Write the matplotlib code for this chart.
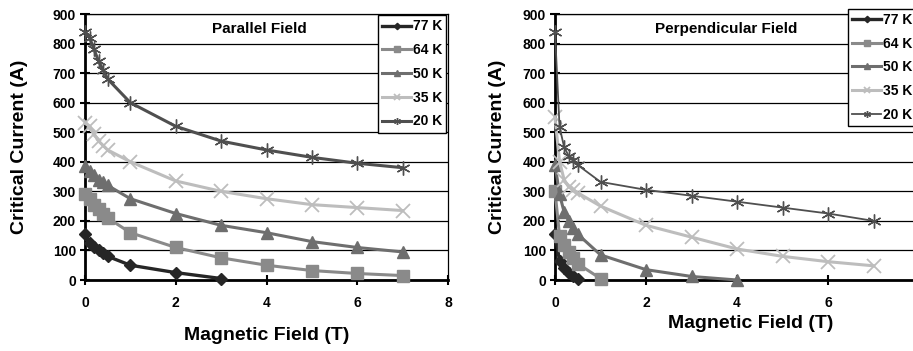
import matplotlib
matplotlib.use("Agg")
import matplotlib.pyplot as plt
from matplotlib import font_manager

fams = {f.name for f in font_manager.fontManager.ttflist}
FONT = "Liberation Sans Narrow" if "Liberation Sans Narrow" in fams else "Liberation Sans"
plt.rcParams["font.family"] = [FONT, "DejaVu Sans"]
plt.rcParams["font.weight"] = "bold"
plt.rcParams["axes.labelweight"] = "bold"

temps = ["77 K", "64 K", "50 K", "35 K", "20 K"]

# parallel field
par_field = {
    "77 K": [0, 0.1, 0.2, 0.3, 0.4, 0.5, 1, 2, 3],
    "64 K": [0, 0.1, 0.2, 0.3, 0.4, 0.5, 1, 2, 3, 4, 5, 6, 7],
    "50 K": [0, 0.1, 0.2, 0.3, 0.4, 0.5, 1, 2, 3, 4, 5, 6, 7],
    "35 K": [0, 0.1, 0.2, 0.3, 0.4, 0.5, 1, 2, 3, 4, 5, 6, 7],
    "20 K": [0, 0.1, 0.2, 0.3, 0.4, 0.5, 1, 2, 3, 4, 5, 6, 7],
}
par_ic = {
    "77 K": [155, 125, 110, 100, 90, 80, 50, 25, 5],
    "64 K": [290, 275, 255, 240, 225, 210, 160, 110, 75, 50, 32, 22, 15],
    "50 K": [385, 370, 355, 340, 330, 320, 275, 225, 185, 160, 130, 110, 95],
    "35 K": [530, 520, 495, 470, 455, 440, 400, 335, 300, 275, 255, 245, 235],
    "20 K": [840, 820, 780, 740, 710, 680, 600, 520, 470, 440, 415, 395, 380],
}

# perpendicular field
perp_field = {
    "77 K": [0, 0.1, 0.2, 0.3, 0.4, 0.5],
    "64 K": [0, 0.1, 0.2, 0.3, 0.4, 0.5, 1],
    "50 K": [0, 0.1, 0.2, 0.3, 0.4, 0.5, 1, 2, 3, 4],
    "35 K": [0, 0.1, 0.2, 0.3, 0.4, 0.5, 1, 2, 3, 4, 5, 6, 7],
    "20 K": [0, 0.1, 0.2, 0.3, 0.4, 0.5, 1, 2, 3, 4, 5, 6, 7],
}
perp_ic = {
    "77 K": [155, 65, 40, 25, 12, 2],
    "64 K": [300, 150, 120, 95, 75, 55, 5],
    "50 K": [390, 290, 230, 200, 175, 155, 85, 35, 12, 0],
    "35 K": [550, 400, 340, 315, 305, 295, 250, 185, 145, 105, 80, 62, 48],
    "20 K": [840, 518, 450, 420, 405, 389, 332, 305, 285, 265, 245, 225, 200],
}

x_ticks = [0, 2, 4, 6, 8]
y_ticks = list(range(0, 901, 100))

styles = {
    "77 K": dict(color="#262626", marker="D", ms=6.5, lw=2.4),
    "64 K": dict(color="#8a8a8a", marker="s", ms=8.5, lw=2.2),
    "50 K": dict(color="#6e6e6e", marker="^", ms=8.5, lw=2.2),
    "35 K": dict(color="#bdbdbd", marker="x", ms=10, lw=2.2, mew=1.3),
    "20 K": dict(color="#4f4f4f", marker=(6, 2, 0), ms=10, lw=2.2, mew=1.0),
}

fig = plt.figure(figsize=(9.13, 3.51), dpi=100)
ax1 = fig.add_axes([85 / 913, 71 / 351, 363 / 913, 266 / 351])
ax2 = fig.add_axes([555 / 913, 71 / 351, 364 / 913, 266 / 351])


def draw(ax, fields, currents, title, title_x, leg_pos, thin20=False):
    for t in temps:
        st = dict(styles[t])
        if thin20 and t == "20 K":
            st["lw"] = 1.3
        ax.plot(fields[t], currents[t], label=t, mec=st["color"],
                clip_on=False, zorder=3, **st)
    ax.set_xlim(0, 8)
    ax.set_ylim(0, 900)
    ax.set_xticks(x_ticks)
    ax.set_yticks(y_ticks)
    ax.yaxis.grid(True, color="black", lw=0.9)
    ax.set_axisbelow(True)
    for s in ["left", "bottom"]:
        ax.spines[s].set_linewidth(2)
    for s in ["top", "right"]:
        ax.spines[s].set_linewidth(0.9)
    ax.tick_params(direction="inout", length=7, width=1.5, labelsize=10, pad=3)
    ax.tick_params(axis="x", pad=8)
    ax.set_ylabel("Critical Current (A)", fontsize=14, va="center")
    ax.set_xlabel("Magnetic Field (T)", fontsize=14, va="center")
    ax.text(title_x, 0.945, title, transform=ax.transAxes, ha="center",
            va="center", fontsize=11)
    leg = ax.legend(loc="upper left", bbox_to_anchor=leg_pos, fontsize=10,
                    handlelength=2.1, handletextpad=0.1, borderpad=0.3,
                    labelspacing=0.7, borderaxespad=0, fancybox=False,
                    markerscale=0.5, framealpha=1)
    leg.get_frame().set_edgecolor("black")
    leg.get_frame().set_linewidth(1.0)


draw(ax1, par_field, par_ic, "Parallel Field", 0.48, (293 / 363, 0.995))
draw(ax2, perp_field, perp_ic, "Perpendicular Field", 0.47,
     (293 / 364, 1.02), thin20=True)

# the right panel runs past the page edge, so its last tick goes unlabelled
ax2.set_xticklabels([str(v) for v in x_ticks[:-1]] + [""])

ax1.xaxis.set_label_coords(0.5, -55 / 266)
ax2.xaxis.set_label_coords(196 / 364, -43 / 266)
ax1.yaxis.set_label_coords(-65 / 363, 0.5)
ax2.yaxis.set_label_coords(-58 / 364, 0.5)

fig.savefig("out.png", dpi=100)
